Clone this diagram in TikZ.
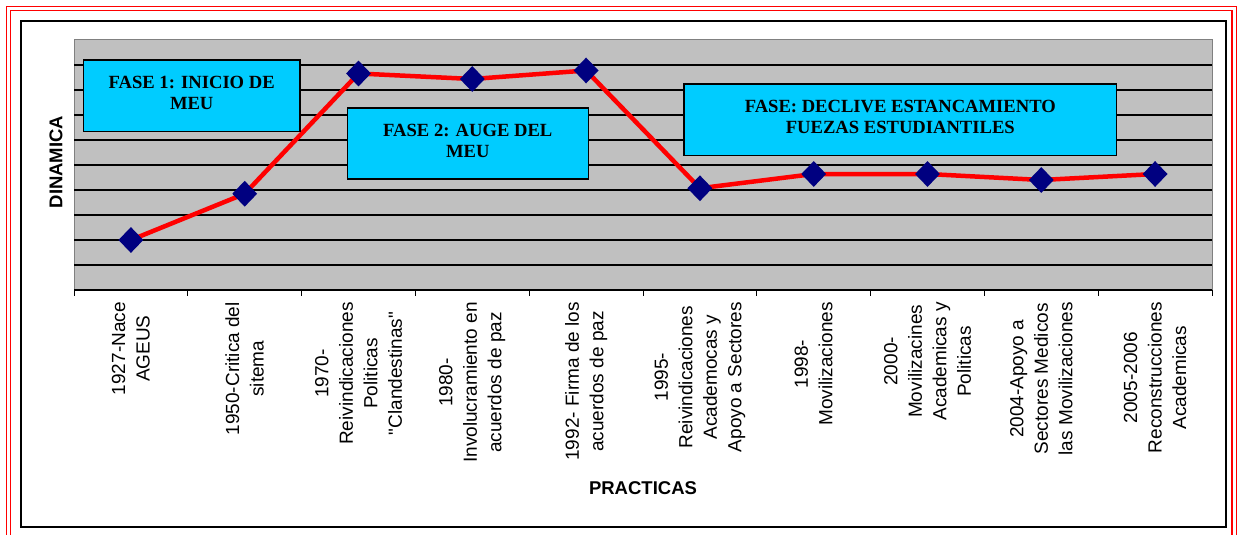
\documentclass[tikz,border=0pt]{standalone}
\usepackage{fontspec}
\setmainfont{Liberation Serif}
\setsansfont{Liberation Sans}[Ligatures=TeXOff]
\usetikzlibrary{shapes.geometric}
\definecolor{plotgray}{RGB}{192,192,192}
\definecolor{bordegray}{RGB}{128,128,128}
\definecolor{fasecyan}{RGB}{0,204,255}
\definecolor{marcanavy}{RGB}{0,0,128}

\begin{document}
\begin{tikzpicture}[x=1pt, y=-1pt,
                    every node/.style = {inner sep=0pt},
                    fase/.style = {draw=black, line width=1.6pt, fill=fasecyan, align=center, text depth=6pt,
                                   font=\bfseries\fontsize{18.6}{21.5}\selectfont},
                    punto/.style = {diamond, fill=marcanavy, minimum width=25pt, minimum height=26pt},
                    serie/.style = {draw=red, line width=4.5pt, line join=round},
                    rejilla/.style = {draw=black, line width=1.3pt},
                    practica/.style = {rotate=90, anchor=east, align=center,
                                       font=\sffamily\fontsize{19}{24.5}\selectfont},
                    titulo/.style = {font=\sffamily\bfseries\fontsize{18.5}{22}\selectfont}]
    \useasboundingbox (0,0) rectangle (1240,535);
    % marcos
    \draw[red, line width=1.5pt] (6.7,6.7) rectangle (1236.3,560);
    \draw[red, line width=1.5pt] (10.7,10.7) rectangle (1232,560);
    \draw[black, line width=2pt] (20.5,21) rectangle (1226,527);
    % area del grafico
    \fill[plotgray] (74,40) rectangle (1212,290);
    \draw[bordegray, line width=1pt] (74,290) -- (74,40) -- (1212,40) -- (1212,290);
    \foreach \y in {65,90,...,265}
        \draw[rejilla] (74,\y) -- (1212,\y);
    \draw[rejilla] (74,290) -- (1212,290);
    \foreach \i in {0,...,10}
        \draw[black, line width=1pt] ({74+113.8*\i},290) -- ++(0,6);
    % serie
    \foreach \i/\v in {1/2.0, 2/3.85, 3/8.66, 4/8.44, 5/8.78, 6/4.07, 7/4.64, 8/4.64, 9/4.4, 10/4.64}
        \coordinate (c\i) at ({74+113.8*(\i-0.5)},{290-25*\v});
    \draw[serie] (c1) \foreach \i in {2,...,10} { -- (c\i) };
    \foreach \i in {1,...,10}
        \node[punto] (p\i) at (c\i) {};
    % fases
    \node[fase, minimum width=216.7pt, minimum height=71.7pt] (fase1) at (191.7,95.8) {FASE 1: INICIO DE\\MEU};
    \node[fase, minimum width=241pt, minimum height=70.7pt] (fase2) at (467.8,143.6) {FASE 2: AUGE DEL\\MEU};
    \node[fase, minimum width=432.7pt, minimum height=71.7pt] (fase3) at (900.3,119.8) {FASE: DECLIVE ESTANCAMIENTO\\FUEZAS ESTUDIANTILES};
    % practicas
    \node[practica] (l1)  at (130.9,302)  {1927-Nace\\AGEUS};
    \node[practica] (l2)  at (244.7,302)  {1950-Critica del\\sitema};
    \node[practica] (l3)  at (358.5,302)  {1970-\\Reivindicaciones\\Politicas\\"Clandestinas"};
    \node[practica] (l4)  at (472.3,302)  {1980-\\Involucramiento en\\acuerdos de paz};
    \node[practica] (l5)  at (586.1,302)  {1992- Firma de los\\acuerdos de paz};
    \node[practica] (l6)  at (699.9,302)  {1995-\\Reivindicaciones\\Academocas y\\Apoyo a Sectores};
    \node[practica] (l7)  at (813.7,302)  {1998-\\Movilizaciones};
    \node[practica] (l8)  at (927.5,302)  {2000-\\Movilizacines\\Academicas y\\Politicas};
    \node[practica] (l9)  at (1041.3,302) {2004-Apoyo a\\Sectores Medicos\\las Movilizaciones};
    \node[practica] (l10) at (1155.1,302) {2005-2006\\Reconstrucciones\\Academicas};
    % ejes
    \node[titulo, rotate=90] (dinamica) at (56,162) {DINAMICA};
    \node[titulo] (practicas) at (643,488) {PRACTICAS};
\end{tikzpicture}
\end{document}
